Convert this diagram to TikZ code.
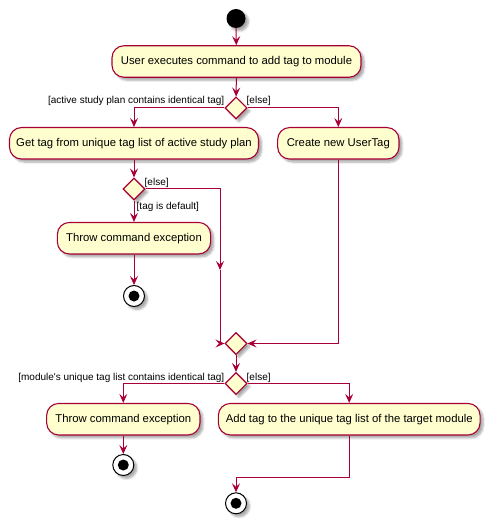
\documentclass[tikz,border=0pt]{standalone}
\usepackage{fontspec}
\setmainfont{Liberation Sans}
\usetikzlibrary{arrows.meta,shapes.geometric,shadows.blur}
\definecolor{umlfill}{HTML}{FEFECE}
\definecolor{umlline}{HTML}{A80036}
\begin{document}
\begin{tikzpicture}[x=1pt,y=-1pt,
  shad/.style={blur shadow={shadow xshift=3pt,shadow yshift=-3pt,shadow blur steps=6,shadow opacity=35}},
  act/.style={draw=umlline,fill=umlfill,line width=1.1pt,rounded corners=12pt,minimum height=31.5pt,inner sep=0pt,font=\fontsize{11.3}{13}\selectfont,shad},
  dec/.style={draw=umlline,fill=umlfill,line width=1.1pt,diamond,minimum width=22pt,minimum height=22pt,inner sep=0pt,shad},
  startnode/.style={circle,fill=black,minimum size=19pt,inner sep=0pt,shad},
  endnode/.style={circle,draw=black,fill=white,line width=1pt,minimum size=21pt,inner sep=0pt,shad,
     path picture={\fill[black] (path picture bounding box.center) circle[radius=5.5pt];}},
  flow/.style={draw=umlline,line width=1pt,-{Stealth[length=9pt,width=8pt,inset=3.5pt]}},
  lbl/.style={font=\fontsize{10}{12}\selectfont,inner sep=0pt}]
\useasboundingbox (0,0) rectangle (489,521);

\node[startnode] (start) at (236,18.5) {};
\node[act,minimum width=249pt] (b1) at (236.5,61.5) {User executes command to add tag to module};
\node[dec] (d1) at (236,108) {};
\node[act,minimum width=249pt] (b2) at (134,143.3) {Get tag from unique tag list of active study plan};
\node[act,minimum width=121.3pt] (b3) at (338.3,143.3) {Create new UserTag};
\node[dec] (d2) at (134,189) {};
\node[act,minimum width=153.3pt] (b4) at (134,238.2) {Throw command exception};
\node[endnode] (e1) at (134,296) {};
\node[dec] (d3) at (236,343.5) {};
\node[dec] (d4) at (236,383.5) {};
\node[act,minimum width=153.3pt] (b5) at (123.3,419.2) {Throw command exception};
\node[act,minimum width=261.7pt] (b6) at (349.2,419.2) {Add tag to the unique tag list of the target module};
\node[endnode] (e2) at (123.3,465) {};
\node[endnode] (e3) at (236,503.3) {};

\coordinate (c1) at (220,270);
\coordinate (j) at (236,477.7);

\node[lbl,anchor=east] (l1) at (224.5,101) {[active study plan contains identical tag]};
\node[lbl,anchor=west] (l2) at (246.5,101) {[else]};
\node[lbl,anchor=west] (l3) at (144.5,183) {[else]};
\node[lbl,anchor=west] (l4) at (136.5,206.7) {[tag is default]};
\node[lbl,anchor=east] (l5) at (224.5,377.5) {[module\textquotesingle s unique tag list contains identical tag]};
\node[lbl,anchor=west] (l6) at (246.5,377.5) {[else]};

\draw[flow] (start) -- (b1);
\draw[flow] (b1) -- (d1);
\draw[flow] (d1.west) -| (b2.north);
\draw[flow] (d1.east) -| (b3.north);
\draw[flow] (b2) -- (d2);
\draw[flow] (d2) -- (b4);
\draw[flow] (b4) -- (e1);
\draw[flow] (d2.east) -| (c1);
\draw[flow] (c1) |- (d3.west);
\draw[flow] (b3.south) |- (d3.east);
\draw[flow] (d3) -- (d4);
\draw[flow] (d4.west) -| (b5.north);
\draw[flow] (d4.east) -| (b6.north);
\draw[flow] (b5) -- (e2);
\draw[flow] (b6.south) |- (j) -- (e3);
\end{tikzpicture}
\end{document}
